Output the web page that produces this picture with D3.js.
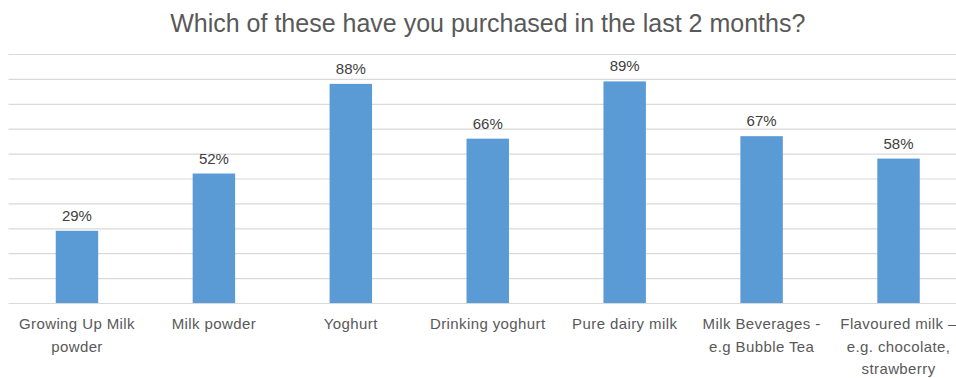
<!DOCTYPE html>
<html>
<head>
<meta charset="utf-8">
<script src="https://cdn.jsdelivr.net/npm/d3@7"></script>
<style>
  html, body { margin: 0; padding: 0; background: #ffffff; }
  svg { display: block; font-family: "Liberation Sans", Arial, sans-serif; }
</style>
</head>
<body>
<svg id="chart" width="956" height="378"></svg>
<script>
// Survey answers: share of respondents who bought each product in the last 2 months
const titleText = "Which of these have you purchased in the last 2 months?";
const categories = [
  "Growing Up Milk\npowder",
  "Milk powder",
  "Yoghurt",
  "Drinking yoghurt",
  "Pure dairy milk",
  "Milk Beverages -\ne.g Bubble Tea",
  "Flavoured milk –\ne.g. chocolate,\nstrawberry"
];
const values = [29, 52, 88, 66, 89, 67, 58];
const gridTicks = [0, 10, 20, 30, 40, 50, 60, 70, 80, 90, 100];

const svg = d3.select("#chart");
const plot = { left: 8.5, right: 967, top: 54, bottom: 303 };

const x = d3.scaleBand()
  .domain(categories)
  .range([plot.left, plot.right])
  .paddingInner(0.69)
  .paddingOuter(0.345);

const y = d3.scaleLinear()
  .domain([0, 100])
  .range([plot.bottom, plot.top]);

// Title
svg.append("text")
  .attr("x", (plot.left + plot.right) / 2)
  .attr("y", 32)
  .attr("text-anchor", "middle")
  .attr("font-size", 25)
  .attr("fill", "#595959")
  .text(titleText);

// Horizontal gridlines (the 0 line doubles as the category axis)
const yAxis = d3.axisLeft(y)
  .tickValues(gridTicks)
  .tickSize(-(plot.right - plot.left))
  .tickFormat("");
const gy = svg.append("g")
  .attr("transform", `translate(${plot.left},0)`)
  .call(yAxis);
gy.select(".domain").remove();
gy.selectAll(".tick line")
  .attr("stroke", "#d9d9d9")
  .attr("stroke-width", 1.2);

// Bars
svg.append("g")
  .selectAll("rect")
  .data(values)
  .join("rect")
  .attr("x", (d, i) => x(categories[i]))
  .attr("y", d => y(d))
  .attr("width", x.bandwidth())
  .attr("height", d => y(0) - y(d))
  .attr("fill", "#5b9bd5");

// Value labels above bars
svg.append("g")
  .selectAll("text")
  .data(values)
  .join("text")
  .attr("x", (d, i) => x(categories[i]) + x.bandwidth() / 2)
  .attr("y", d => y(d) - 10)
  .attr("text-anchor", "middle")
  .attr("font-size", 15)
  .attr("fill", "#404040")
  .text(d => d + "%");

// Category labels, wrapped onto several lines
const xAxis = d3.axisBottom(x).tickSize(0).tickPadding(0);
const gx = svg.append("g")
  .attr("transform", `translate(0,${plot.bottom})`)
  .call(xAxis);
gx.select(".domain").remove();
gx.selectAll(".tick text").each(function (d) {
  const t = d3.select(this);
  t.text(null)
    .attr("y", 0)
    .attr("dy", null)
    .attr("font-size", 15)
    .attr("letter-spacing", 0.4)
    .attr("font-family", "Liberation Sans, Arial, sans-serif")
    .attr("fill", "#595959");
  d.split("\n").forEach((line, k) => {
    t.append("tspan")
      .attr("x", 0)
      .attr("y", 26 + k * 22.5)
      .text(line);
  });
});
</script>
</body>
</html>
